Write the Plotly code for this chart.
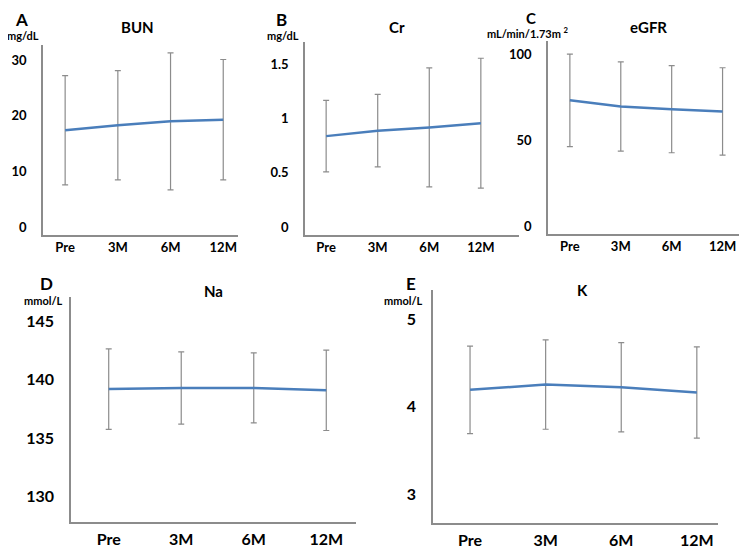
import plotly.graph_objects as go

# the page body has an 8px margin, so the figure is drawn 8px in and 8px down
W, H = 747, 553
OFF = 8
FW, FH = W - OFF, H - OFF

timepoints = ["Pre", "3M", "6M", "12M"]

bun_mean = [17.4, 18.3, 19.0, 19.3]
bun_sd = [9.8, 9.8, 12.3, 10.8]

cr_mean = [0.84, 0.89, 0.92, 0.96]
cr_sd = [0.33, 0.335, 0.55, 0.60]

egfr_mean = [73.4, 69.8, 68.2, 66.9]
egfr_sd = [27.0, 26.0, 25.4, 25.5]

na_mean = [139.2, 139.3, 139.3, 139.1]
na_sd = [3.45, 3.1, 3.0, 3.45]

k_mean = [4.19, 4.25, 4.22, 4.16]
k_sd = [0.50, 0.51, 0.51, 0.52]

bun_ticks = [0, 10, 20, 30]
cr_ticks = [0, 0.5, 1, 1.5]
egfr_ticks = [0, 50, 100]
na_ticks = [130, 135, 140, 145]
k_ticks = [3, 4, 5]

LINE = "#4a7ebb"
GREY = "#8c8c8c"
FONT = "Lato, Open Sans, sans-serif"


def px(x):
    return (x - OFF) / FW


def py(y):
    return 1 - (y - OFF) / FH


# panel boxes in screen pixels: left, right, top, bottom
panels = [
    dict(mean=bun_mean, sd=bun_sd, ticks=bun_ticks, box=(43, 238, 45, 235),
         yr=[-1.4, 32.7], xr=[-0.42, 3.28], tsize=13, xstand=0),
    dict(mean=cr_mean, sd=cr_sd, ticks=cr_ticks, box=(305, 519, 42, 235),
         yr=[-0.074, 1.71], xr=[-0.41, 3.74], tsize=13, xstand=0),
    dict(mean=egfr_mean, sd=egfr_sd, ticks=egfr_ticks, box=(548, 747, 41, 234),
         yr=[-4.6, 108], xr=[-0.43, 3.48], tsize=13, xstand=0),
    dict(mean=na_mean, sd=na_sd, ticks=na_ticks, box=(71, 356, 297, 522),
         yr=[127.8, 147.1], xr=[-0.52, 3.41], tsize=16, xstand=2),
    dict(mean=k_mean, sd=k_sd, ticks=k_ticks, box=(433, 718, 290, 523),
         yr=[2.67, 5.33], xr=[-0.49, 3.28], tsize=16, xstand=2),
]

fig = go.Figure()
layout = {}

for i, p in enumerate(panels, start=1):
    sfx = "" if i == 1 else str(i)
    l, r, t, b = p["box"]
    fig.add_trace(go.Scatter(
        x=timepoints, y=p["mean"], mode="lines",
        line=dict(color=LINE, width=2.5),
        error_y=dict(type="data", array=p["sd"], color=GREY, thickness=1.2, width=3),
        xaxis="x" + sfx, yaxis="y" + sfx, showlegend=False,
    ))
    layout["xaxis" + sfx] = dict(
        domain=[px(l), min(px(r), 1)], anchor="y" + sfx, type="category",
        range=p["xr"], showgrid=False, zeroline=False,
        showline=True, linecolor=GREY, linewidth=1.5,
        ticks="", ticklen=0, ticklabelstandoff=p["xstand"],
        tickfont=dict(family=FONT, size=p["tsize"], color="black", weight="bold"),
    )
    layout["yaxis" + sfx] = dict(
        domain=[py(b), py(t)], anchor="x" + sfx,
        range=p["yr"], tickvals=p["ticks"], showgrid=False, zeroline=False,
        showline=True, linecolor=GREY, linewidth=1.5,
        ticks="", ticklabelstandoff=12,
        tickfont=dict(family=FONT, size=p["tsize"], color="black", weight="bold"),
    )

fig.update_layout(**layout)

# panel letters sit right at the top edge, so hang them from it
letters = [("A", 21, 8, 17), ("B", 281, 8, 17), ("C", 531, 8, 15),
           ("D", 46, 272, 17), ("E", 411, 272, 17)]
for text, x, y, size in letters:
    fig.add_annotation(
        text=text, x=px(x), y=py(y), xref="paper", yref="paper",
        xanchor="center", yanchor="top", showarrow=False, borderpad=0,
        font=dict(family=FONT, size=size, color="black", weight="bold"),
    )

labels = [
    ("BUN", 137, 27, 15), ("Cr", 397, 27, 15), ("eGFR", 648, 27, 15),
    ("Na", 213, 291, 15), ("K", 582, 290, 15),
    ("mg/dL", 23, 35, 11), ("mg/dL", 283, 35, 11),
    ("mL/min/1.73m <sup>2</sup>", 528, 33, 11),
    ("mmol/L", 43, 300, 11), ("mmol/L", 403, 300, 11),
]
for text, x, y, size in labels:
    fig.add_annotation(
        text=text, x=px(x), y=py(y), xref="paper", yref="paper",
        xanchor="center", yanchor="middle", showarrow=False,
        font=dict(family=FONT, size=size, color="black", weight="bold"),
    )

fig.update_layout(
    width=FW, height=FH, margin=dict(l=0, r=0, t=0, b=0),
    plot_bgcolor="white", paper_bgcolor="white",
)

fig.write_html("out.html")
